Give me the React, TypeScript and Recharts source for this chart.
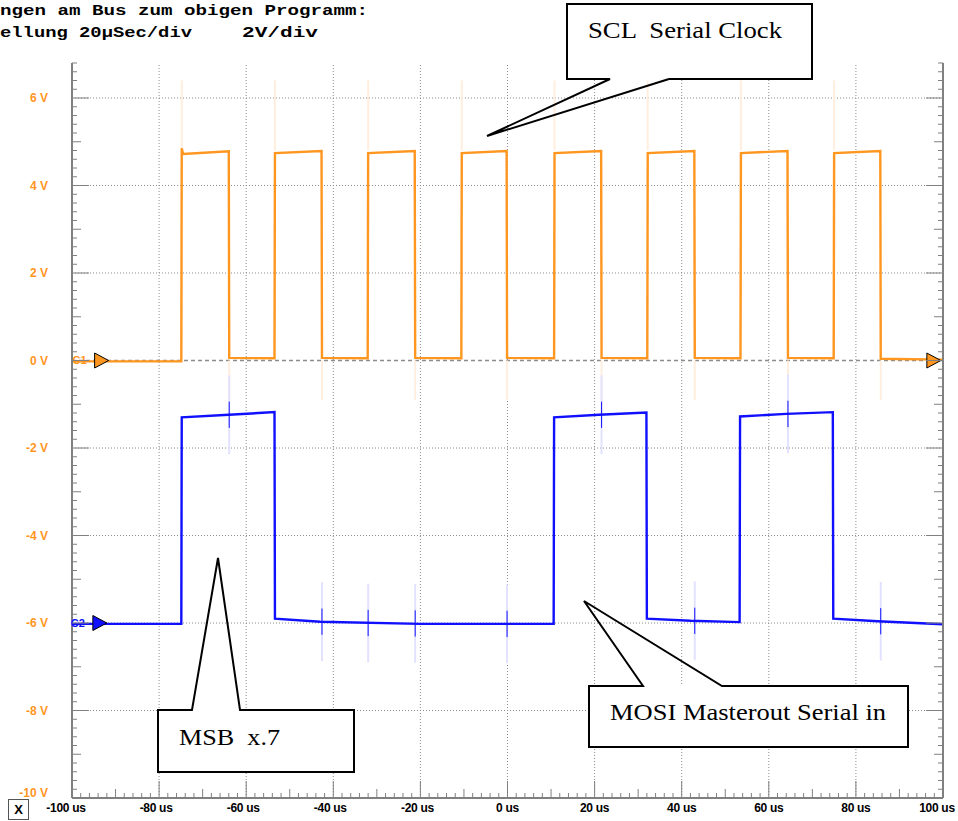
import { Line, LineChart, ReferenceDot, ReferenceLine, XAxis, YAxis } from "recharts";

const ORANGE = "#ff961f";
const BLUE = "#1010ff";
const AXIS = "#808080";

// C1 = SCL, time in µs / level in V
const sclTime = [
  -100, -74.9, -74.8, -74.5, -64.0, -63.9, -53.5, -53.4, -42.7, -42.6, -32.1, -32.0, -21.3, -21.2,
  -10.6, -10.5, -0.2, -0.1, 10.7, 10.8, 21.5, 21.6, 32.1, 32.2, 42.9, 43.0, 53.5, 53.6, 64.3, 64.4,
  74.9, 75.0, 85.6, 85.7, 100,
];
const sclVolt = [
  -0.02, -0.02, 4.85, 4.72, 4.78, 0.06, 0.05, 4.74, 4.79, 0.06, 0.05, 4.74, 4.79, 0.06,
  0.05, 4.74, 4.79, 0.06, 0.05, 4.74, 4.79, 0.06, 0.05, 4.74, 4.79, 0.06, 0.05, 4.74, 4.79, 0.06,
  0.05, 4.74, 4.79, 0.04, 0.02,
];

// C2 = MOSI
const mosiTime = [
  -100, -74.9, -74.8, -64.0, -53.5, -53.4, -43.0, -20.0, 10.6, 10.7, 21.0, 31.9, 32.0, 42.0,
  53.3, 53.4, 64.0, 74.7, 74.8, 85.0, 100,
];
const mosiVolt = [
  -6.02, -6.02, -1.3, -1.24, -1.18, -5.9, -5.97, -6.02, -6.02, -1.3, -1.24, -1.19, -5.9, -5.95,
  -5.98, -1.28, -1.22, -1.18, -5.9, -5.96, -6.03,
];

// ringing spikes seen on the probes
const sclRiseT = [-74.8, -53.4, -32.0, -10.5, 10.8, 32.2, 53.6, 75.0];
const sclFallT = [-63.9, -42.6, -21.2, -0.1, 21.6, 43.0, 64.4, 85.7];
const mosiGlitchT = [-63.9, -42.6, -32.0, -21.2, -0.1, 21.6, 43.0, 64.4, 85.7];
const mosiGlitchV = [-1.24, -5.97, -6.0, -6.01, -6.02, -1.24, -5.95, -1.22, -5.96];

const gridTimes = [-80, -60, -40, -20, 0, 20, 40, 60, 80];
const gridVolts = [-8, -6, -4, -2, 2, 4, 6];

const timeTicks = Array.from({ length: 101 }, (_, i) => -100 + i * 2);
const voltTicks = Array.from({ length: 85 }, (_, i) => Math.round((-10 + i * 0.2) * 10) / 10);

const sclData = sclTime.map((t, i) => ({ t, v: sclVolt[i] }));
const mosiData = mosiTime.map((t, i) => ({ t, v: mosiVolt[i] }));

const sans = "Liberation Sans, Arial, sans-serif";
const serif = "Liberation Serif, Times New Roman, serif";
const mono = "Liberation Mono, Courier New, monospace";

const TimeTick = (props: any) => {
  const { x, y, payload } = props;
  const v = payload.value;
  const major = v % 20 === 0;
  const mid = !major && v % 10 === 0;
  const len = major ? 17 : mid ? 9 : 5;
  const dx = v === -100 ? -6 : v === 100 ? -6 : v < 0 ? -3 : 0;
  return (
    <g>
      <line x1={x} x2={x} y1={y} y2={y - len} stroke={AXIS} strokeWidth={1} />
      {major && (
        <text x={x + dx} y={y + 14} textAnchor="middle" fontSize={12} fontWeight="bold" fill="#000"
          fontFamily={sans} letterSpacing={-0.3}>
          {`${v} us`}
        </text>
      )}
    </g>
  );
};

const VoltTick = (props: any) => {
  const { x, y, payload, side } = props;
  const k = Math.round(payload.value * 10);
  const major = k % 20 === 0;
  const mid = !major && k % 10 === 0;
  const len = major ? 17 : mid ? 9 : 5;
  const dir = side === "right" ? -1 : 1;
  // bottom label sits just above the axis so it clears the X box
  const ty = k === -100 ? y - 5 : y;
  return (
    <g>
      <line x1={x} x2={x + dir * len} y1={y} y2={y} stroke={AXIS} strokeWidth={1} />
      {major && side !== "right" && (
        <text x={x - 24} y={ty} dy="0.35em" textAnchor="end" fontSize={12} fontWeight="bold" fill={ORANGE}
          fontFamily={sans}>
          {`${k / 10} V`}
        </text>
      )}
    </g>
  );
};

const ChannelMarker = (props: any) => {
  const { cx, cy, color, label, left } = props;
  if (left) {
    return (
      <path d={`M${cx + 7} ${cy} L${cx - 7} ${cy - 7.5} L${cx - 7} ${cy + 7.5} Z`} fill={color} stroke="#000" strokeWidth={1} />
    );
  }
  return (
    <g>
      <text x={cx - 29} y={cy} dy="0.35em" fontSize={11} fontWeight="bold" fill={color} fontFamily={sans}>
        {label}
      </text>
      <path d={`M${cx - 7} ${cy - 7.5} L${cx + 7} ${cy} L${cx - 7} ${cy + 7.5} Z`} fill={color} stroke="#000" strokeWidth={1} />
    </g>
  );
};

const App = () => {
  return (
    <div style={{ position: "absolute", left: 0, top: 0, width: 958, height: 821, background: "#fff" }}>
      <LineChart width={958} height={821} margin={{ top: 63, right: 0, bottom: 0, left: 0 }}>
        <XAxis
          type="number"
          dataKey="t"
          domain={[-100, 100]}
          allowDataOverflow
          ticks={timeTicks}
          interval={0}
          tickSize={0}
          tickMargin={0}
          tickLine={false}
          tick={<TimeTick />}
          height={23}
          axisLine={{ stroke: AXIS, strokeWidth: 2 }}
        />
        <YAxis
          type="number"
          domain={[-10, 6.8]}
          allowDataOverflow
          ticks={voltTicks}
          interval={0}
          tickSize={0}
          tickMargin={0}
          tickLine={false}
          tick={<VoltTick side="left" />}
          width={72}
          axisLine={{ stroke: AXIS, strokeWidth: 2 }}
        />
        <YAxis
          yAxisId="r"
          orientation="right"
          type="number"
          domain={[-10, 6.8]}
          allowDataOverflow
          ticks={voltTicks}
          interval={0}
          tickSize={0}
          tickMargin={0}
          tickLine={false}
          tick={<VoltTick side="right" />}
          width={15}
          axisLine={{ stroke: AXIS, strokeWidth: 2 }}
        />

        {gridTimes.map((t) => (
          <ReferenceLine key={`gx${t}`} x={t} stroke="#8c8c8c" strokeDasharray="1 2" />
        ))}
        {gridVolts.map((v) => (
          <ReferenceLine key={`gy${v}`} y={v} stroke="#8c8c8c" strokeDasharray="1 2" />
        ))}
        <ReferenceLine y={0} stroke="#8c8c8c" strokeWidth={1.5} strokeDasharray="4 3" />

        {sclRiseT.map((t) => (
          <ReferenceLine key={`sr${t}`} segment={[{ x: t, y: 4.8 }, { x: t, y: 6.4 }]} stroke="#ffeedd" strokeWidth={2} />
        ))}
        {sclFallT.map((t) => (
          <ReferenceLine key={`sf${t}`} segment={[{ x: t, y: 0 }, { x: t, y: -0.9 }]} stroke="#ffeedd" strokeWidth={2} />
        ))}
        {mosiGlitchT.map((t, i) => (
          <ReferenceLine key={`mf${t}`} segment={[{ x: t, y: mosiGlitchV[i] - 0.9 }, { x: t, y: mosiGlitchV[i] + 0.9 }]}
            stroke="#e2e2ff" strokeWidth={2} />
        ))}

        <Line data={sclData} dataKey="v" type="linear" stroke={ORANGE} strokeWidth={2.4} dot={false} isAnimationActive={false} />
        <Line data={mosiData} dataKey="v" type="linear" stroke={BLUE} strokeWidth={2.4} dot={false} isAnimationActive={false} />

        {mosiGlitchT.map((t, i) => (
          <ReferenceLine key={`mg${t}`} segment={[{ x: t, y: mosiGlitchV[i] - 0.3 }, { x: t, y: mosiGlitchV[i] + 0.3 }]}
            stroke={BLUE} strokeWidth={1} />
        ))}

        <ReferenceDot x={-93.2} y={0} ifOverflow="visible" shape={<ChannelMarker color={ORANGE} label="C1" />} />
        <ReferenceDot x={-93.6} y={-6} ifOverflow="visible" shape={<ChannelMarker color={BLUE} label="C2" />} />
        <ReferenceDot x={97.9} y={0} ifOverflow="visible" shape={<ChannelMarker color={ORANGE} left />} />
      </LineChart>

      <svg width={958} height={821} style={{ position: "absolute", left: 0, top: 0, pointerEvents: "none" }}>
        <text x={0} y={15} fontFamily={mono} fontWeight="bold" fontSize={14} textLength={368} lengthAdjust="spacingAndGlyphs">
          ngen am Bus zum obigen Programm:
        </text>
        <text x={0} y={37} fontFamily={mono} fontWeight="bold" fontSize={14} textLength={192} lengthAdjust="spacingAndGlyphs">
          ellung 20µSec/div
        </text>
        <text x={242} y={37} fontFamily={mono} fontWeight="bold" fontSize={14} textLength={76} lengthAdjust="spacingAndGlyphs">
          2V/div
        </text>

        {/* SCL callout */}
        <rect x={567} y={4} width={245} height={75} fill="#fff" />
        <path d="M669 79 L812 79 L812 4 L567 4 L567 79 L610 79 L487 136 L669 79" fill="none" stroke="#000" strokeWidth={2} />
        <text x={588} y={38} fontFamily={serif} fontSize={24} xmlSpace="preserve" textLength={194} lengthAdjust="spacingAndGlyphs">
          SCL  Serial Clock
        </text>

        {/* MSB callout */}
        <rect x={158} y={710} width={196} height={62} fill="#fff" />
        <path d="M158 710 L192 710 L218 558 L240 710 L354 710 L354 772 L158 772 Z" fill="none" stroke="#000" strokeWidth={2} />
        <text x={179} y={745} fontFamily={serif} fontSize={24} xmlSpace="preserve" textLength={101} lengthAdjust="spacingAndGlyphs">
          MSB  x.7
        </text>

        {/* MOSI callout */}
        <rect x={589} y={686} width={319} height={61} fill="#fff" />
        <path d="M589 686 L643 686 L584 601 L722 686 L908 686 L908 747 L589 747 Z" fill="none" stroke="#000" strokeWidth={2} />
        <text x={610} y={720} fontFamily={serif} fontSize={24} textLength={276} lengthAdjust="spacingAndGlyphs">
          MOSI Masterout Serial in
        </text>

        <rect x={8.5} y={799.5} width={20} height={20} fill="#fff" stroke="#555" strokeWidth={1} />
        <text x={18.5} y={814} textAnchor="middle" fontFamily={sans} fontWeight="bold" fontSize={13}>
          X
        </text>
      </svg>
    </div>
  );
};

export default App;
